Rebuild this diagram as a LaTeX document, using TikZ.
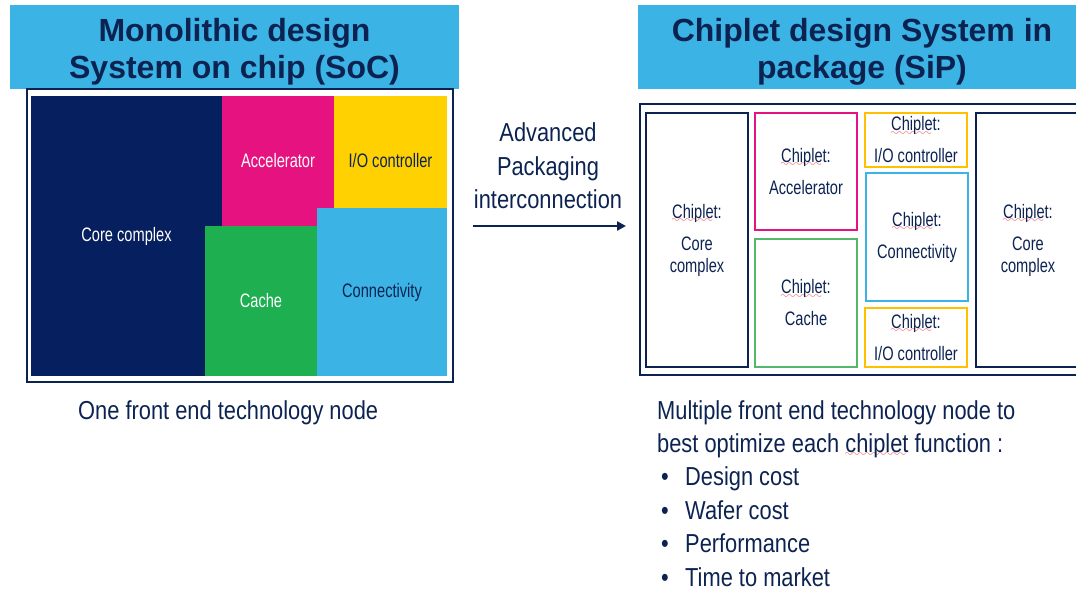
\documentclass[tikz,border=0pt]{standalone}
\usepackage{fontspec}
\setmainfont{Liberation Sans}
\newfontfamily\bodyfont[FakeStretch=0.84]{Liberation Sans}
\newfontfamily\blockfont[FakeStretch=0.75]{Liberation Sans}
\usepackage{xcolor}
\usepackage{tikz}
\usetikzlibrary{arrows.meta,positioning}
\definecolor{hdrblue}{RGB}{59,179,228}
\definecolor{inknavy}{RGB}{12,35,82}
\definecolor{corenavy}{RGB}{6,31,94}
\definecolor{accmag}{RGB}{230,18,127}
\definecolor{ioyel}{RGB}{255,209,0}
\definecolor{ioorange}{RGB}{255,192,0}
\definecolor{cachegrn}{RGB}{29,175,80}
\definecolor{cacheline}{RGB}{84,184,106}
\definecolor{waved}{RGB}{235,40,40}
\font\wavefont=lasy10
\newsavebox\wavebox
\newcommand\redwave[1]{\sbox\wavebox{#1}\rlap{\raisebox{-4.5pt}[0pt][0pt]{\hbox to\wd\wavebox{\color{waved}\leaders\hbox{\wavefont\char58}\hfil}}}\usebox\wavebox}

\begin{document}
\begin{tikzpicture}[x=1pt,y=-1pt,
  hdr/.style={fill=hdrblue,inner sep=0},
  hdrtext/.style={text=inknavy,font=\fontsize{32}{37}\selectfont\bfseries,align=center,inner sep=0},
  blk/.style={inner sep=0,font=\blockfont\fontsize{19.5}{22}\selectfont},
  chip/.style={draw,line width=2pt,fill=white,inner sep=0,text=inknavy,align=center,font=\blockfont\fontsize{19.5}{22}\selectfont},
  txt/.style={text=inknavy,font=\bodyfont\fontsize{26}{33.4}\selectfont,inner sep=0}]
\useasboundingbox (0,0) rectangle (1076,590);
\clip (0,0) rectangle (1076,590);

% monolithic SoC
\node[hdr,minimum width=449,minimum height=84] (sochdr) at (234.5,47) {};
\node[hdrtext] (soctitle) at ([yshift=-4.5pt]sochdr.center) {Monolithic design\\System on chip (SoC)};
\node[draw=inknavy,line width=2pt,minimum width=426,minimum height=293] (socframe) at (240,235.5) {};
\node[blk,fill=corenavy,text=white,minimum width=191,minimum height=280] (core) at (126.5,236) {Core complex};
\node[blk,fill=accmag,text=white,minimum width=112,minimum height=130] (acc) at (278,161) {Accelerator};
\node[blk,fill=ioyel,text=inknavy,minimum width=113,minimum height=130] (io) at (390.5,161) {I/O controller};
\node[blk,fill=cachegrn,text=white,minimum width=112,minimum height=150] (cache) at (261,301) {Cache};
\node[blk,fill=hdrblue,text=inknavy,minimum width=130,minimum height=168] (conn) at (382,292) {Connectivity};
\node[txt,anchor=west] (socnote) at (78,413) {One front end technology node};

% packaging arrow
\coordinate (arrfrom) at (473,226);
\coordinate (arrto) at (626,226);
\draw[inknavy,line width=2.5pt,-{Triangle[length=9pt,width=9pt]}] (arrfrom) -- (arrto);
\node[txt,align=center] (arrlbl) at (548,166) {Advanced\\Packaging\\interconnection};

% chiplet SiP
\node[hdr,minimum width=448,minimum height=84] (siphdr) at (862,47) {};
\node[hdrtext] (siptitle) at ([yshift=-4.5pt]siphdr.center) {Chiplet design System in\\package (SiP)};
\node[draw=inknavy,line width=2.5pt,minimum width=450,minimum height=271] (sipframe) at (865,239.5) {};
\node[chip,draw=inknavy,minimum width=102,minimum height=254] (coreA) at (697,240) {\redwave{Chiplet}:\\[10pt]Core\\complex};
\node[chip,draw=accmag,minimum width=102,minimum height=117] (accB) at (806,171.5) {\redwave{Chiplet}:\\[10pt]Accelerator};
\node[chip,draw=cacheline,minimum width=102,minimum height=128] (cacheB) at (806,303) {\redwave{Chiplet}:\\[10pt]Cache};
\node[chip,draw=ioorange,minimum width=102,minimum height=54] (ioB1) at (916,140) {\redwave{Chiplet}:\\[10pt]I/O controller};
\node[chip,draw=hdrblue,minimum width=102,minimum height=128] (connB) at (917,237) {\redwave{Chiplet}:\\[10pt]Connectivity};
\node[chip,draw=ioorange,minimum width=102,minimum height=59] (ioB2) at (916,337.5) {\redwave{Chiplet}:\\[10pt]I/O controller};
\node[chip,draw=inknavy,minimum width=104,minimum height=254] (coreB) at (1028,240) {\redwave{Chiplet}:\\[10pt]Core\\complex};
\node[txt,anchor=north west,align=left] (sipnote) at (657,400) {Multiple front end technology node to\\best optimize each \redwave{chiplet} function :\\
  \hspace*{4pt}\makebox[24pt][l]{\textbullet}Design cost\\
  \hspace*{4pt}\makebox[24pt][l]{\textbullet}Wafer cost\\
  \hspace*{4pt}\makebox[24pt][l]{\textbullet}Performance\\
  \hspace*{4pt}\makebox[24pt][l]{\textbullet}Time to market};
\end{tikzpicture}
\end{document}
